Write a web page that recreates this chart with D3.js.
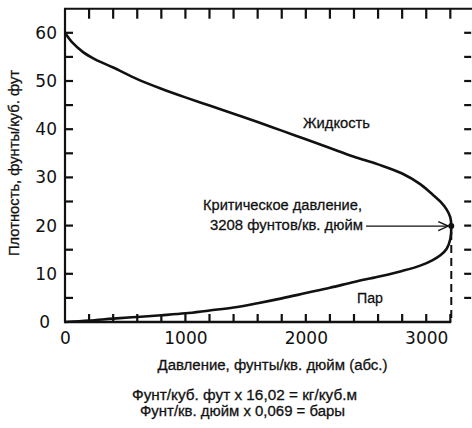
<!DOCTYPE html>
<html>
<head>
<meta charset="utf-8">
<script src="https://cdn.jsdelivr.net/npm/d3@7/dist/d3.min.js"></script>
<style>
  html, body { margin: 0; padding: 0; background: #fff; }
  svg { display: block; }
  .num { font-family: "DejaVu Sans", sans-serif; font-size: 17px; fill: #111; }
  .lbl { font-family: "Liberation Sans Narrow", "Liberation Sans", sans-serif; font-size: 15.5px; fill: #111; stroke: #111; stroke-width: 0.3px; }
</style>
</head>
<body>
<svg id="chart" width="472" height="428"></svg>
<script>
// ---- data ----
const liquidP = [0, 60, 150, 250, 400, 600, 800, 1000, 1200, 1400, 1600, 1800, 2000, 2200, 2400, 2600, 2800, 2950, 3050, 3120, 3170, 3200, 3208];
const liquidD = [60, 58.0, 56.0, 54.5, 52.8, 50.4, 48.4, 46.6, 44.9, 43.2, 41.5, 39.7, 37.9, 36.1, 34.3, 32.7, 30.8, 28.6, 26.5, 24.9, 23.3, 21.7, 19.9];
const vaporP = [0, 200, 400, 600, 800, 1000, 1200, 1400, 1600, 1800, 2000, 2200, 2400, 2600, 2800, 2950, 3050, 3120, 3170, 3200, 3208];
const vaporD = [0, 0.3, 0.7, 1.05, 1.4, 1.8, 2.4, 3.0, 3.9, 4.9, 6.0, 7.1, 8.3, 9.4, 10.6, 11.7, 12.8, 13.9, 15.2, 17.2, 19.9];
const critical = { p: 3208, d: 19.9 };
const xMajorTicks = [0, 1000, 2000, 3000];
const xMinorTicks = d3.range(0, 3201, 200);
const yMajorTicks = [0, 10, 20, 30, 40, 50, 60];
const yMinorTicks = d3.range(0, 61, 5);
const texts = {
  yTitle: "Плотность, фунты/куб. фут",
  xTitle: "Давление, фунты/кв. дюйм (абс.)",
  note1: "Фунт/куб. фут x 16,02 = кг/куб.м",
  note2: "Фунт/кв. дюйм x 0,069 = бары",
  crit1: "Критическое давление,",
  crit2: "3208 фунтов/кв. дюйм",
  liquid: "Жидкость",
  vapor: "Пар"
};

// ---- scales ----
const x = d3.scaleLinear().domain([0, 3400]).range([65, 474.4]);
const y = d3.scaleLinear().domain([0, 65]).range([322, 8.7]);

const svg = d3.select("#chart");
const ink = "#111";

// ---- axes labels ----
const yAxis = d3.axisLeft(y).tickValues(yMajorTicks).tickSize(0).tickPadding(8).tickFormat(d3.format("d"));
const gy = svg.append("g").attr("transform", `translate(${x(0)},0)`).call(yAxis);
gy.select(".domain").remove();
gy.selectAll(".tick line").remove();
gy.selectAll("text").attr("class", "num").attr("font-size", null).attr("font-family", null)
  .attr("x", v => v === 0 ? -15 : -8);

const xAxis = d3.axisBottom(x).tickValues(xMajorTicks).tickSize(0).tickPadding(10).tickFormat(d3.format("d"));
const gx = svg.append("g").attr("transform", `translate(0,${y(0)})`).call(xAxis);
gx.select(".domain").remove();
gx.selectAll(".tick line").remove();
gx.selectAll("text").attr("class", "num").attr("font-size", null).attr("font-family", null);

// spines
svg.append("path").attr("fill", "none").attr("stroke", ink).attr("stroke-width", 2.2)
  .attr("d", `M${x(0)},${y(0) + 1}L${x(0)},${y(65)}`);
svg.append("path").attr("fill", "none").attr("stroke", ink).attr("stroke-width", 2.4)
  .attr("d", `M${x(0) - 1},${y(0)}L${x(critical.p)},${y(0)}`);
svg.append("path").attr("fill", "none").attr("stroke", ink).attr("stroke-width", 2)
  .attr("d", `M${x(0) - 1},${y(65)}L472,${y(65)}`);

// ---- curve ----
const pts = vaporP.map((p, i) => [p, vaporD[i]])
  .concat(liquidP.map((p, i) => [p, liquidD[i]]).reverse().slice(1));
const curveGen = d3.line().x(v => x(v[0])).y(v => y(v[1])).curve(d3.curveCatmullRom.alpha(0.5));
svg.append("path").attr("d", curveGen(pts)).attr("fill", "none")
  .attr("stroke", ink).attr("stroke-width", 2.6).attr("stroke-linejoin", "round");

// dashed critical line
svg.append("path").attr("fill", "none").attr("stroke", ink).attr("stroke-width", 2)
  .attr("stroke-dasharray", "8,5")
  .attr("d", `M${x(critical.p)},${y(critical.d) + 6}L${x(critical.p)},${y(0)}`);

// critical point dot
svg.append("circle").attr("cx", x(critical.p)).attr("cy", y(critical.d)).attr("r", 3).attr("fill", ink);

// arrow
const ay = y(critical.d);
const tipX = x(critical.p) - 3;
svg.append("path").attr("fill", "none").attr("stroke", ink).attr("stroke-width", 1.3)
  .attr("d", `M${x(2500)},${ay}L${tipX},${ay}`);
svg.append("path")
  .attr("d", `M${tipX - 10},${ay - 4.5} L${tipX},${ay} L${tipX - 10},${ay + 4.5}`)
  .attr("fill", "none").attr("stroke", ink).attr("stroke-width", 1.4);

// ---- text ----
function addText(str, px, py, anchor, len, transform) {
  const t = svg.append("text").attr("class", "lbl").attr("text-anchor", anchor).text(str);
  if (transform) t.attr("transform", transform); else t.attr("x", px).attr("y", py);
  if (len) t.attr("textLength", len).attr("lengthAdjust", "spacingAndGlyphs");
  return t;
}
addText(texts.yTitle, 0, 0, "middle", 186, "translate(19,163) rotate(-90)");
addText(texts.xTitle, 272.5, 370, "middle", 230);
addText(texts.note1, 244.5, 400, "middle", 225);
addText(texts.note2, 242.5, 416, "middle", 205);
addText(texts.crit1, 362, 210, "end", 159);
addText(texts.crit2, 363, 230, "end", 153);
addText(texts.liquid, 303, 128, "start", 67);
addText(texts.vapor, 357, 303, "start", 26);

// ---- tick marks (inside on left/bottom/top, crossing the open right edge) ----
const xr = x(3340);
const leftTicks = yMinorTicks.filter(v => v > 0);
const bottomTicks = xMinorTicks.filter(v => v > 0);
svg.append("g").selectAll("rect").data(leftTicks).join("rect")
  .attr("x", x(0)).attr("y", v => y(v) - 1.1).attr("width", 8).attr("height", 2.2).attr("fill", ink);
svg.append("g").selectAll("rect").data(bottomTicks).join("rect")
  .attr("x", v => x(v) - 1.1).attr("y", y(0) - 8).attr("width", 2.2).attr("height", 8).attr("fill", ink);
svg.append("g").selectAll("rect").data(bottomTicks).join("rect")
  .attr("x", v => x(v) - 1.1).attr("y", y(65)).attr("width", 2.2).attr("height", 10).attr("fill", ink);
svg.append("g").selectAll("rect").data(leftTicks).join("rect")
  .attr("x", xr - 3).attr("y", v => y(v) - 1.1).attr("width", 7).attr("height", 2.2).attr("fill", ink);
</script>
</body>
</html>
